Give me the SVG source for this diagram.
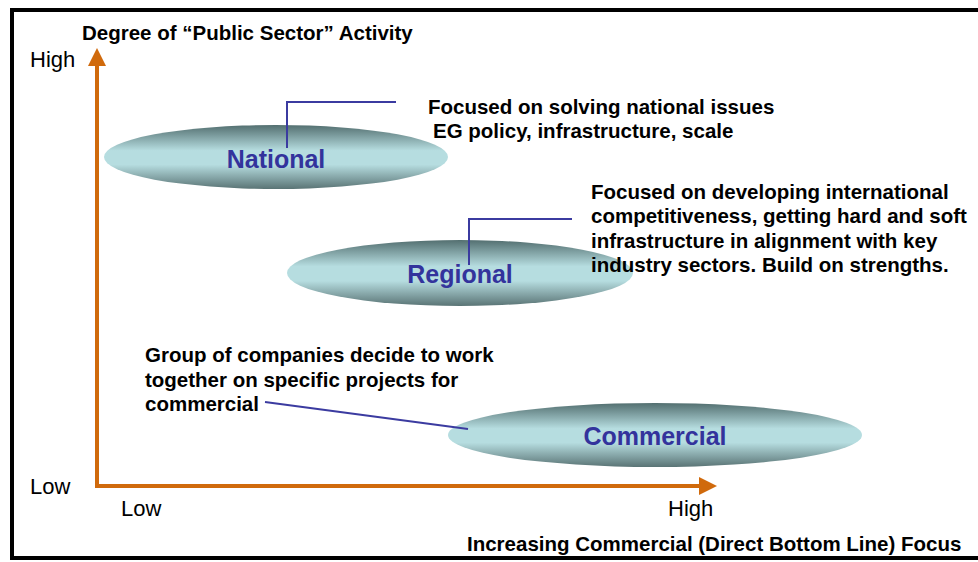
<svg xmlns="http://www.w3.org/2000/svg" width="978" height="562" viewBox="0 0 978 562">
<defs>
<linearGradient id="eg" x1="0" y1="0" x2="0" y2="1">
<stop offset="0" stop-color="#536f70"/>
<stop offset="0.4" stop-color="#b6dde0"/>
<stop offset="0.62" stop-color="#b6dde0"/>
<stop offset="1" stop-color="#5a7475"/>
</linearGradient>
<style>
.b{font-family:"Liberation Sans",Arial,sans-serif;font-weight:bold;font-size:20.5px;fill:#000}
.r{font-family:"Liberation Sans",Arial,sans-serif;font-size:22px;fill:#000}
.n{font-family:"Liberation Sans",Arial,sans-serif;font-weight:bold;font-size:25px;fill:#33339c;text-anchor:middle}
.ax{stroke:#d06a0c;stroke-width:4;fill:none}
.ah{fill:#d06a0c}
.cl{stroke:#3b3ba0;stroke-width:2;fill:none}
.el{fill:url(#eg)}
</style>
</defs>
<rect x="0" y="0" width="978" height="562" fill="#fff"/>
<rect x="12" y="10" width="990" height="548" fill="none" stroke="#000" stroke-width="4"/>
<g id="axes">
<line class="ax" x1="97" y1="488" x2="97" y2="62"/>
<polygon class="ah" points="97,48 88,66 106,66"/>
<line class="ax" x1="95" y1="486" x2="703" y2="486"/>
<polygon class="ah" points="717,486 699,477 699,495"/>
<text class="b" x="82" y="40" font-size="19.5">Degree of “Public Sector” Activity</text>
<text class="r" x="30" y="67">High</text>
<text class="r" x="30" y="494">Low</text>
<text class="r" x="121" y="516">Low</text>
<text class="r" x="668" y="516">High</text>
<text class="b" x="467" y="551" font-size="20.8">Increasing Commercial (Direct Bottom Line) Focus</text>
</g>
<g id="national">
<ellipse class="el" cx="276" cy="157" rx="172" ry="32"/>
<text class="n" x="276" y="168">National</text>
</g>
<g id="regional">
<ellipse class="el" cx="460" cy="273" rx="173" ry="33"/>
<text class="n" x="460" y="283">Regional</text>
</g>
<g id="commercial">
<ellipse class="el" cx="655" cy="435" rx="207" ry="32"/>
<text class="n" x="655" y="445">Commercial</text>
</g>
<g id="note-national">
<text class="b" x="428" y="114">Focused on solving national issues</text>
<text class="b" x="433" y="138">EG policy, infrastructure, scale</text>
</g>
<g id="note-regional">
<text class="b" x="591" y="199">Focused on developing international</text>
<text class="b" x="591" y="223">competitiveness, getting hard and soft</text>
<text class="b" x="591" y="248">infrastructure in alignment with key</text>
<text class="b" x="591" y="272">industry sectors. Build on strengths.</text>
</g>
<g id="note-commercial">
<text class="b" x="145" y="362">Group of companies decide to work</text>
<text class="b" x="145" y="387">together on specific projects for</text>
<text class="b" x="145" y="411">commercial</text>
</g>
<g id="connectors">
<polyline class="cl" points="287,148 287,102 396,102"/>
<polyline class="cl" points="469,265 469,219 572,219"/>
<line class="cl" x1="265" y1="402" x2="468" y2="429" stroke-width="3"/>
</g>
</svg>
